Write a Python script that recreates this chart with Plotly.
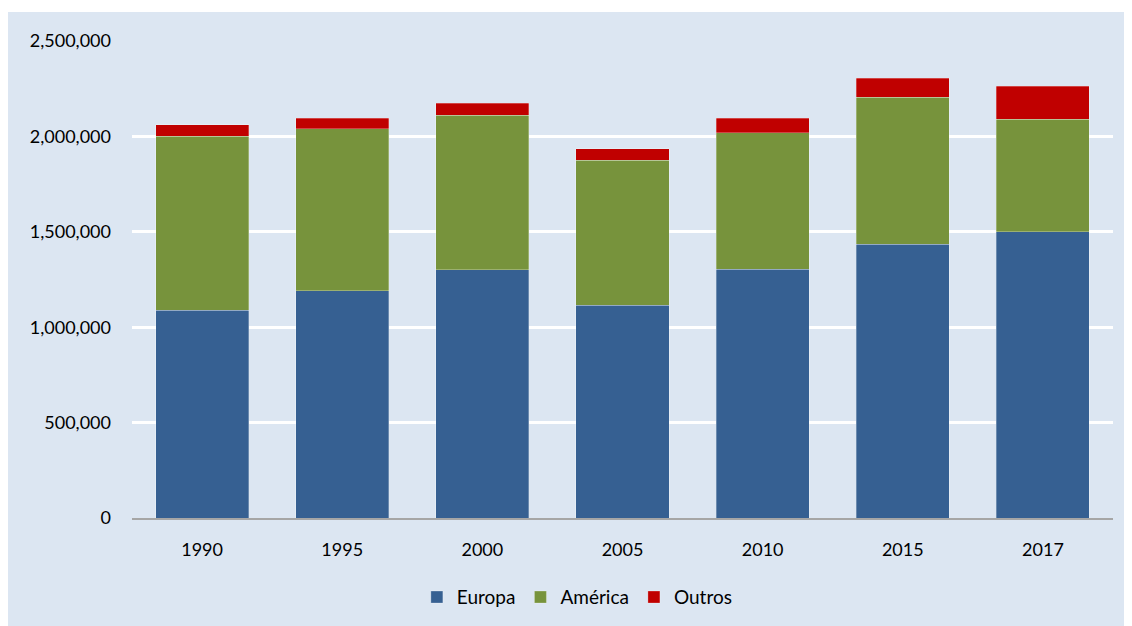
import plotly.graph_objects as go

years = ["1990", "1995", "2000", "2005", "2010", "2015", "2017"]
europa = [1090000, 1190000, 1300000, 1116000, 1305000, 1436000, 1499000]
america = [912000, 849000, 812000, 760000, 713000, 770000, 592000]
outros = [58000, 57000, 63000, 58000, 78000, 100000, 173000]

edge = dict(width=0.6, color="rgba(255,255,255,0.45)")
fig = go.Figure()
fig.add_bar(name="Europa", x=years, y=europa, marker=dict(color="#366092", line=edge))
fig.add_bar(name="América", x=years, y=america, marker=dict(color="#77933C", line=edge))
fig.add_bar(name="Outros", x=years, y=outros, marker=dict(color="#C00000", line=edge))

font = "Lato, 'Open Sans', sans-serif"
fig.update_layout(
    barmode="stack",
    bargap=0.336,
    width=1132, height=626,
    margin=dict(l=124, r=27, t=33, b=116),
    paper_bgcolor="#DCE6F2",
    plot_bgcolor="#DCE6F2",
    font=dict(family=font, size=18, color="#000000"),
    showlegend=True,
    legend=dict(orientation="h", x=0.454, xanchor="center", y=-0.166, yanchor="middle",
                font=dict(size=19), traceorder="normal", itemwidth=30, bgcolor="rgba(0,0,0,0)"),
    xaxis=dict(showgrid=False, showline=True, linecolor="#A6A6A6", linewidth=2,
               ticks="", ticklabelstandoff=14, tickfont=dict(size=18)),
    yaxis=dict(range=[0, 2500000], tickvals=[0, 500000, 1000000, 1500000, 2000000, 2500000],
               tickformat=",d", showgrid=True, gridcolor="#FFFFFF", gridwidth=2.5,
               zeroline=False, ticks="", ticklabelstandoff=20, tickfont=dict(size=18)),
    shapes=[
        dict(type="rect", xref="paper", yref="paper", x0=-0.3, x1=1.1, y0=(518 - 12) / 477, y1=1.3,
             fillcolor="#FFFFFF", line=dict(width=0), layer="below"),
    ],
)
fig.write_html("out.html")
